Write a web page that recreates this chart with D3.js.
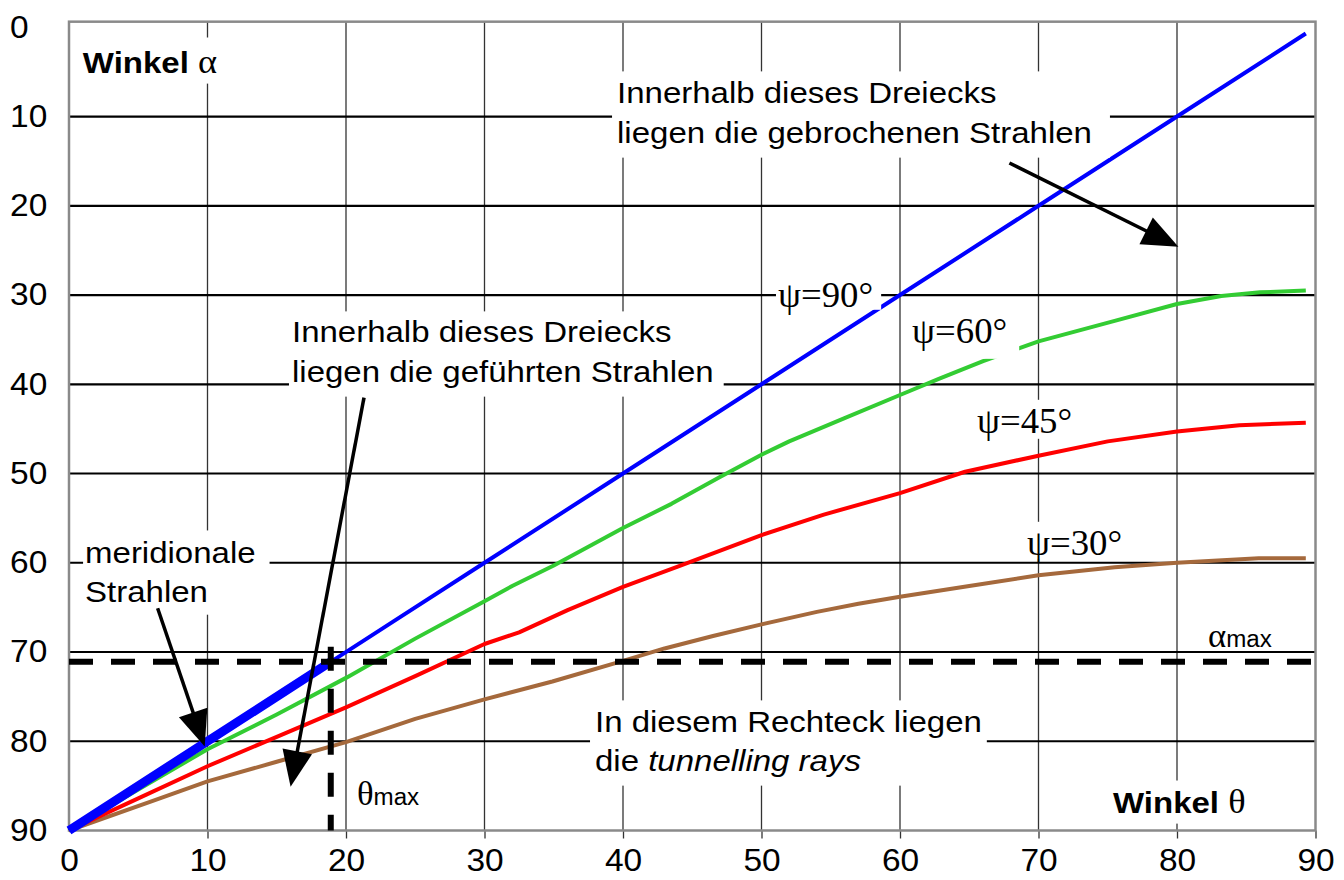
<!DOCTYPE html>
<html><head><meta charset="utf-8">
<script src="https://cdn.jsdelivr.net/npm/d3@7"></script>
<style>body{margin:0;background:#fff}svg{display:block}</style>
</head><body>
<svg id="c" width="1344" height="880"></svg>
<script>
// ---- data ----
const thetaTicks = [0,10,20,30,40,50,60,70,80,90];
const alphaTicks = [0,10,20,30,40,50,60,70,80,90];

const thetaPsi90 = [0,10,18.9,23.4,30,40,50,60,66.5,70,80,89.3];
const alphaPsi90 = [90,80,71.1,66.6,60,50,40,30,23.5,20,10,0.7];

const thetaPsi60 = [0,5,10,15,20,25,30,32,35,40,43.5,47,50,52,56,60,62.8,66,70,75.5,80,83.2,86,89.3];
const alphaPsi60 = [90,85.4,80.9,77,72.9,68.5,64.3,62.6,60.3,56.1,53.4,50.4,47.9,46.4,43.8,41.2,39.4,37.4,35.2,32.9,31,30.1,29.7,29.5];

const thetaPsi45 = [0,5,10,15,20,25,30,32.5,36,40,44,50,54.5,60,64.7,70,75,80,84.5,89.3];
const alphaPsi45 = [90,86.4,82.8,79.5,76.2,72.7,69.1,67.8,65.3,62.7,60.4,56.9,54.6,52.2,49.8,48,46.4,45.3,44.6,44.3];

const thetaPsi30 = [0,6,10,15,20,25,30,34.9,40,43,46.5,50,54,57,60,65,70,75.5,80,85.9,89.3];
const alphaPsi30 = [90,86.7,84.5,82.3,80.1,77.5,75.3,73.3,71,69.6,68.2,66.9,65.5,64.6,63.8,62.6,61.4,60.5,60,59.5,59.5];

const seriesNames  = ["ψ=30°","ψ=45°","ψ=60°","ψ=90°"];
const seriesColors = ["#a5693c","#ff0000","#33cc33","#0000ff"];

const thetaMax = 18.9;
const alphaMax = 71.1;

// ---- setup ----
const SANS = "'Liberation Sans', Arial, sans-serif";
const SERIF = "'Liberation Serif', 'Times New Roman', serif";
const svg = d3.select("#c");
const x = d3.scaleLinear().domain([0,90]).range([69,1315.5]);
const y = d3.scaleLinear().domain([0,90]).range([27.3,830.5]);
const yTop = y(-0.63);
const SX = 1.08;

// gridlines
svg.append("g").selectAll("line").data(thetaTicks.slice(1,-1)).join("line")
  .attr("x1",d=>x(d)).attr("x2",d=>x(d)).attr("y1",yTop).attr("y2",y(90))
  .attr("stroke","#333").attr("stroke-width",1.3);
svg.append("g").selectAll("line").data(alphaTicks.slice(1,-1)).join("line")
  .attr("x1",x(0)).attr("x2",x(90)).attr("y1",d=>y(d)).attr("y2",d=>y(d))
  .attr("stroke","#000").attr("stroke-width",2.2);

// axes
const xAxis = svg.append("g").attr("transform",`translate(0,${y(90)})`)
  .call(d3.axisBottom(x).tickValues(thetaTicks).tickSize(8).tickPadding(10).tickFormat(d3.format("d")));
xAxis.select(".domain").remove();
xAxis.selectAll(".tick line").attr("stroke","#333").attr("stroke-width",1.3);
xAxis.selectAll(".tick").filter(d=>d===0).select("line").remove();
xAxis.selectAll("text").attr("font-family",SANS).attr("font-size",31).attr("fill","#000")
  .attr("transform",`scale(${SX},1)`);

const yAxis = svg.append("g").attr("transform",`translate(${x(0)},0)`)
  .call(d3.axisLeft(y).tickValues(alphaTicks).tickSize(0).tickFormat(d3.format("d")));
yAxis.select(".domain").remove();
yAxis.selectAll("text").attr("font-family",SANS).attr("font-size",31).attr("fill","#000")
  .attr("text-anchor","start").attr("x",(10 - x(0))/SX).attr("transform",`scale(${SX},1)`);

// frame
svg.append("rect").attr("x",x(0)).attr("y",yTop).attr("width",x(90)-x(0)).attr("height",y(90)-yTop)
  .attr("fill","none").attr("stroke","#8a8a8a").attr("stroke-width",2.5);

// curves
const seriesTheta = [thetaPsi30,thetaPsi45,thetaPsi60,thetaPsi90];
const seriesAlpha = [alphaPsi30,alphaPsi45,alphaPsi60,alphaPsi90];
const line = d3.line().x(d=>x(d[0])).y(d=>y(d[1]));
seriesNames.forEach((n,i)=>{
  const pts = seriesTheta[i].map((t,j)=>[t,seriesAlpha[i][j]]);
  svg.append("path").datum(pts).attr("d",line).attr("fill","none")
    .attr("stroke",seriesColors[i]).attr("stroke-width",4).attr("stroke-linejoin","round");
});
// meridional rays: thick part of psi=90 up to thetaMax
const merid = thetaPsi90.map((t,j)=>[t,alphaPsi90[j]]).filter(d=>d[0]<=thetaMax);
svg.append("path").datum(merid).attr("d",line).attr("fill","none")
  .attr("stroke","#0000ff").attr("stroke-width",9);

// ---- annotations ----
function label(theta, alpha, lines, opts){
  const o = Object.assign({size:30, family:SANS, sx:1.1, gap:40, pad:[5,10,5,5], box:true}, opts||{});
  const outer = svg.append("g");
  const rect = outer.append("rect").attr("fill","#fff");
  const inner = outer.append("g").attr("transform",`translate(${x(theta)},${y(alpha)}) scale(${o.sx},1)`);
  lines.forEach((ln,i)=>{
    const t = inner.append("text").attr("y",i*o.gap).attr("font-family",o.family)
      .attr("font-size",o.size).attr("fill","#000");
    ln.forEach(seg=>{
      const s = t.append("tspan").text(seg.t);
      if(seg.b) s.attr("font-weight","bold");
      if(seg.i) s.attr("font-style","italic");
      if(seg.f) s.attr("font-family",seg.f);
      if(seg.s) s.attr("font-size",seg.s);
    });
  });
  if(o.box){
    const bb = inner.node().getBBox();
    const x0 = x(theta)+bb.x*o.sx, y0 = y(alpha)+bb.y;
    rect.attr("x",x0-o.pad[0]).attr("y",y0-o.pad[2])
      .attr("width",bb.width*o.sx+o.pad[0]+o.pad[1]).attr("height",bb.height+o.pad[2]+o.pad[3]);
  } else rect.remove();
}

label(1.0, 5.12, [[{t:"Winkel ",b:true},{t:"α",f:SERIF,s:33}]], {pad:[8,4,6,3]});
label(39.57, 8.48, [[{t:"Innerhalb dieses Dreiecks"}],[{t:"liegen die gebrochenen Strahlen"}]], {pad:[5,18,4,8]});
label(16.1, 35.26, [[{t:"Innerhalb dieses Dreiecks"}],[{t:"liegen die geführten Strahlen"}]], {pad:[3,10,3,8]});
label(1.16, 60.03, [[{t:"meridionale"}],[{t:"Strahlen"}]], {gap:39, pad:[2,14,5,6]});
label(37.98, 78.96, [[{t:"In diesem Rechteck liegen"}],[{t:"die "},{t:"tunnelling rays",i:true}]], {gap:39, pad:[5,5,4,8]});
label(75.38, 88.04, [[{t:"Winkel ",b:true},{t:"θ",f:SERIF,s:33}]], {pad:[8,6,3,3]});
label(20.79, 87.15, [[{t:"θ",f:SERIF,s:33},{t:"max",s:23}]], {sx:1.05, box:false});
label(82.24, 69.44, [[{t:"α",f:SERIF,s:33},{t:"max",s:23}]], {sx:1.05, box:false});

const psiPos = [[69.17,59.13],[65.56,45.46],[60.87,35.38],[51.19,31.34]];
const psiPad = [[2,8,2,-4],[2,8,2,-2],[2,12,2,8],[2,8,2,-5]];
seriesNames.forEach((n,i)=>{
  label(psiPos[i][0], psiPos[i][1], [[{t:n}]], {family:SERIF, size:35, sx:1.05, pad:psiPad[i]});
});

// dashed limit lines
svg.append("line").attr("x1",x(0)).attr("x2",x(90)).attr("y1",y(alphaMax)).attr("y2",y(alphaMax))
  .attr("stroke","#000").attr("stroke-width",6).attr("stroke-dasharray","24,18");
svg.append("line").attr("x1",x(thetaMax)).attr("x2",x(thetaMax)).attr("y1",y(69.4)).attr("y2",y(90))
  .attr("stroke","#000").attr("stroke-width",6).attr("stroke-dasharray","24,18");

// arrows
function arrow(t1,a1,t2,a2){
  const X1=x(t1),Y1=y(a1),X2=x(t2),Y2=y(a2);
  const dx=X2-X1, dy=Y2-Y1, L=Math.hypot(dx,dy), ux=dx/L, uy=dy/L;
  const hl=36, hw=15;
  const bx=X2-ux*hl, by=Y2-uy*hl;
  svg.append("line").attr("x1",X1).attr("y1",Y1).attr("x2",bx+ux*2).attr("y2",by+uy*2)
    .attr("stroke","#000").attr("stroke-width",3.5);
  svg.append("polygon").attr("points",
    [[X2,Y2],[bx-uy*hw,by+ux*hw],[bx+uy*hw,by-ux*hw]].map(p=>p.join(",")).join(" "))
    .attr("fill","#000");
}
arrow(67.9,15.2,80.1,24.6);
arrow(21.3,41.5,16.0,85.1);
arrow(6.4,65.1,9.8,80.6);
</script>
</body></html>
